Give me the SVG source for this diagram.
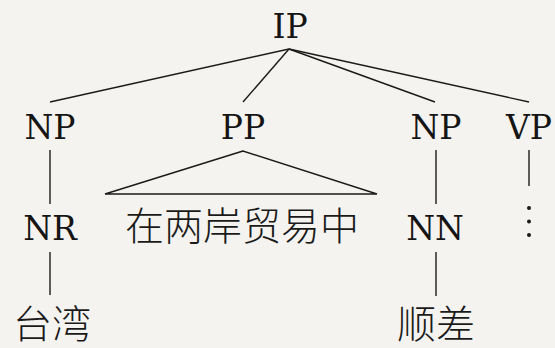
<svg xmlns="http://www.w3.org/2000/svg" width="555" height="348" viewBox="0 0 555 348">
<style>
.lbl{font-family:"DejaVu Serif","Liberation Serif",serif;font-size:33px;fill:#151515;text-anchor:middle}
.zh{font-family:"Noto Sans CJK SC","Noto Sans",sans-serif;font-size:39px;fill:#1a1a1a;text-anchor:middle;font-weight:300}
.e{stroke:#1a1a1a;stroke-width:1.4;fill:none}
</style>
<rect width="555" height="348" fill="#f5f3ef"/>
<g id="connectors">
<line class="e" x1="289" y1="49" x2="50" y2="102"/>
<line class="e" x1="289" y1="49" x2="243" y2="102"/>
<line class="e" x1="289" y1="49" x2="435" y2="102"/>
<line class="e" x1="289" y1="49" x2="529" y2="102"/>
<line class="e" x1="50" y1="150" x2="50" y2="204"/>
<line class="e" x1="50" y1="252" x2="50" y2="295"/>
<line class="e" x1="436" y1="150" x2="436" y2="204"/>
<line class="e" x1="436" y1="252" x2="436" y2="296"/>
<line class="e" x1="529" y1="150" x2="529" y2="186"/>
<polygon class="e" points="243,151 105,194 377,194"/>
</g>
<g id="IP"><text class="lbl" x="290" y="38">IP</text></g>
<g id="NP1"><text class="lbl" x="50" y="139">NP</text></g>
<g id="PP"><text class="lbl" x="243" y="139">PP</text></g>
<g id="NP2"><text class="lbl" x="436" y="139">NP</text></g>
<g id="VP"><text class="lbl" x="529" y="139">VP</text></g>
<g id="NR"><text class="lbl" x="50" y="240">NR</text></g>
<g id="PPyield"><text class="zh" x="242" y="240">在两岸贸易中</text></g>
<g id="NN"><text class="lbl" x="435" y="240">NN</text></g>
<g id="VPdots"><circle cx="529" cy="208" r="2" fill="#1a1a1a"/><circle cx="529" cy="221.5" r="2" fill="#1a1a1a"/><circle cx="529" cy="235" r="2" fill="#1a1a1a"/></g>
<g id="taiwan"><text class="zh" x="52" y="338">台湾</text></g>
<g id="shuncha"><text class="zh" x="436" y="338">顺差</text></g>
</svg>
